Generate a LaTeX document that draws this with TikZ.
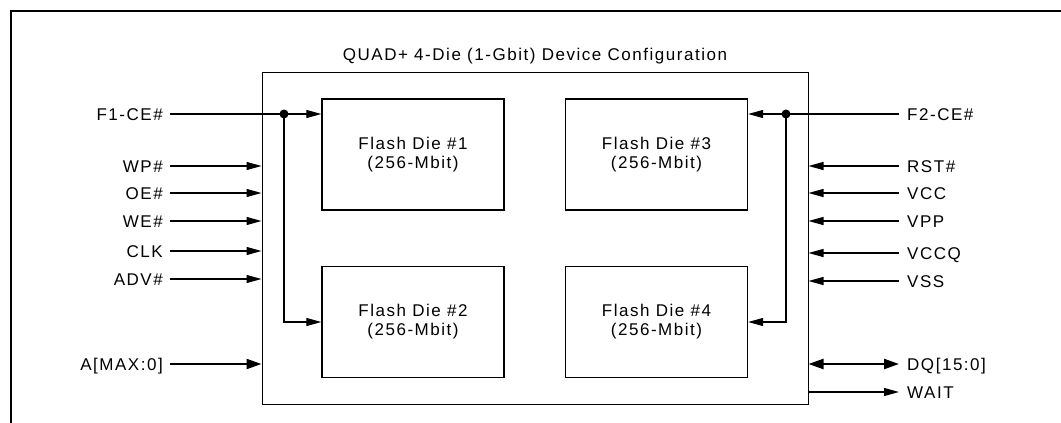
\documentclass[tikz,border=0pt]{standalone}
\usepackage{fontspec}
\setmainfont{Liberation Sans}[LetterSpace=9]
\usetikzlibrary{arrows.meta}
\begin{document}
\begin{tikzpicture}[x=1pt,y=-1pt,
  font=\fontsize{17}{19}\selectfont,
  frame/.style={line width=2.2pt},
  devbox/.style={draw,line width=1pt},
  diebox/.style={draw,line width=1.3pt,minimum width=182pt,minimum height=111pt,inner sep=0pt,align=center},
  lbl/.style={inner sep=0pt,text height=12.2pt,text depth=0pt},
  sig/.style={line width=1.2pt,-{Triangle[length=15pt,width=8pt]}},
  plainsig/.style={line width=1.2pt},
  bus/.style={line width=2.2pt,-{Triangle[length=15pt,width=10pt]}},
  dbus/.style={line width=2.2pt,{Triangle[length=15pt,width=10pt]}-{Triangle[length=15pt,width=10pt]}},
  dot/.style={circle,fill,inner sep=0pt,minimum size=9pt}]
\useasboundingbox (0,0) rectangle (1061,423);
% outer frame (clipped)
\draw[frame] (11,423) -- (11,11) -- (1061,11);
% device box
\node[devbox,minimum width=546pt,minimum height=332pt,inner sep=0pt] (dev) at (535,238) {};
\node[inner sep=0pt,anchor=base] (title) at (535,60) {QUAD+ 4-Die (1-Gbit) Device Configuration};
% dies
\node[diebox] (d1) at (413,154.5) {Flash Die \#1\\(256-Mbit)};
\node[diebox] (d2) at (413,322) {Flash Die \#2\\(256-Mbit)};
\node[diebox] (d3) at (656.5,154.5) {Flash Die \#3\\(256-Mbit)};
\node[diebox] (d4) at (656.5,322) {Flash Die \#4\\(256-Mbit)};
% left labels
\node[lbl,anchor=east] (lF1) at (163,114) {F1-CE\#};
\node[lbl,anchor=east] (lWP) at (163,166) {WP\#};
\node[lbl,anchor=east] (lOE) at (163,193) {OE\#};
\node[lbl,anchor=east] (lWE) at (163,221) {WE\#};
\node[lbl,anchor=east] (lCLK) at (163,251) {CLK};
\node[lbl,anchor=east] (lADV) at (163,279) {ADV\#};
\node[lbl,anchor=east] (lA) at (163,364) {A[MAX:0]};
% right labels
\node[lbl,anchor=west] (rF2) at (907,114) {F2-CE\#};
\node[lbl,anchor=west] (rRST) at (907,166) {RST\#};
\node[lbl,anchor=west] (rVCC) at (907,193) {VCC};
\node[lbl,anchor=west] (rVPP) at (907,221) {VPP};
\node[lbl,anchor=west] (rVCCQ) at (907,253) {VCCQ};
\node[lbl,anchor=west] (rVSS) at (907,281) {VSS};
\node[lbl,anchor=west] (rDQ) at (907,364) {DQ[15:0]};
\node[lbl,anchor=west] (rWAIT) at (907,392) {WAIT};
% junctions
\node[dot] (j1) at (284,114) {};
\node[dot] (j2) at (786,114) {};
% left connectors
\draw[sig] ([xshift=7pt]lF1.east) -- (lF1 -| d1.west);
\draw[sig] (j1.center) |- (d2.west);
\foreach \n in {lWP,lOE,lWE,lCLK,lADV}
  \draw[sig] ([xshift=7pt]\n.east) -- (\n -| dev.west);
\draw[bus] ([xshift=7pt]lA.east) -- (lA -| dev.west);
% right connectors
\draw[sig] ([xshift=-8pt]rF2.west) -- (rF2 -| d3.east);
\draw[sig] (j2.center) |- (d4.east);
\foreach \n in {rRST,rVCC,rVPP,rVCCQ,rVSS}
  \draw[sig] ([xshift=-8pt]\n.west) -- (\n -| dev.east);
\draw[dbus] (rDQ -| dev.east) -- ([xshift=-8pt]rDQ.west);
\draw[sig] (rWAIT -| dev.east) -- ([xshift=-8pt]rWAIT.west);
\end{tikzpicture}
\end{document}
